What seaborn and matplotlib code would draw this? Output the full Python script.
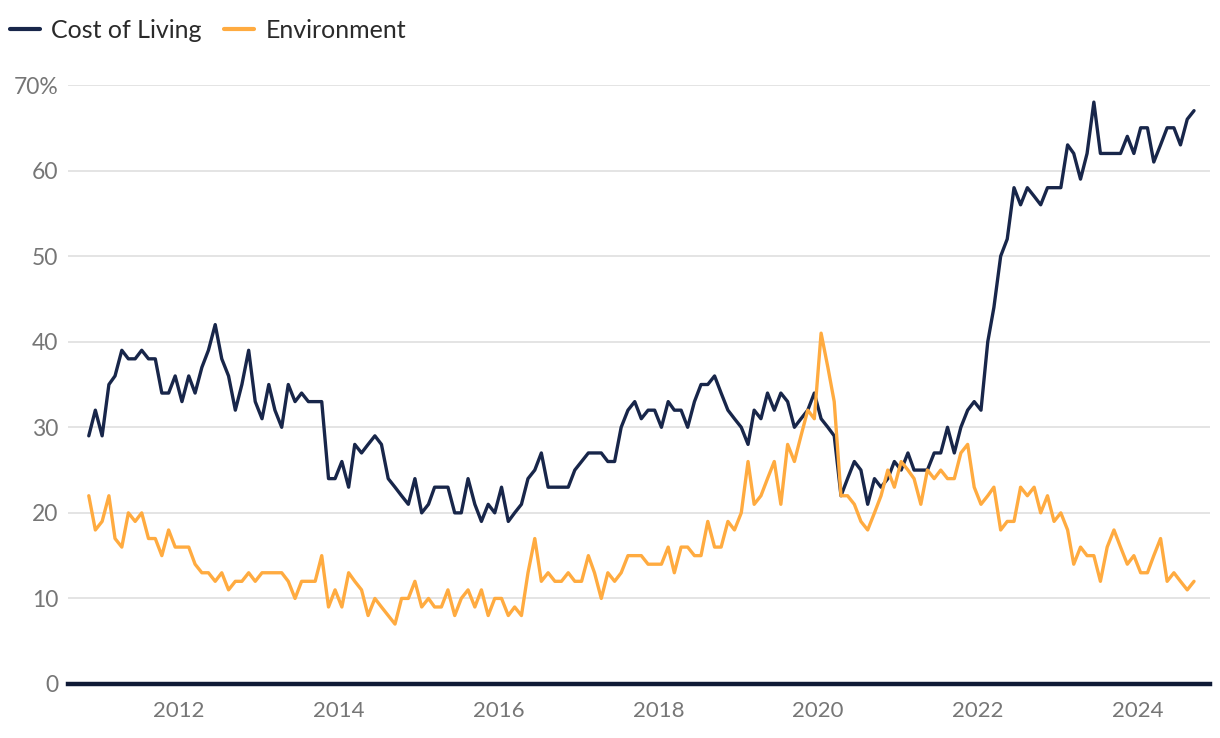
import pandas as pd
import seaborn as sns
import matplotlib.pyplot as plt
import matplotlib.dates as mdates


# monthly survey shares (%), Nov 2010 - Sep 2024
cost_of_living = [
	29, 32, 29, 35, 36, 39, 38, 38, 39, 38, 38, 34, 34, 36, 33, 36, 34, 37, 39, 42,
	38, 36, 32, 35, 39, 33, 31, 35, 32, 30, 35, 33, 34, 33, 33, 33,
	24, 24, 26, 23, 28, 27, 28, 29, 28, 24, 23, 22, 21, 24, 20, 21, 23, 23, 23, 20,
	20, 24, 21, 19, 21, 20, 23, 19, 20, 21, 24, 25, 27, 23, 23, 23, 23, 25, 26,
	27, 27, 27, 26, 26, 30, 32, 33, 31, 32, 32, 30, 33, 32, 32, 30, 33, 35, 35, 36,
	34, 32, 31, 30, 28, 32, 31, 34, 32, 34, 33, 30, 31, 32, 34, 31,
	30, 29, 22, 24, 26, 25, 21, 24, 23, 24, 26, 25, 27, 25, 25, 25, 27, 27, 30, 27,
	30, 32, 33, 32,
	40, 44, 50, 52, 58, 56, 58, 57, 56, 58, 58, 58, 63, 62, 59, 62, 68, 62, 62, 62,
	62, 64, 62, 65, 65, 61, 63, 65, 65, 63, 66, 67,
]

environment = [
	22, 18, 19, 22, 17, 16, 20, 19, 20, 17, 17, 15, 18, 16, 16, 16, 14, 13, 13, 12,
	13, 11, 12, 12, 13, 12, 13, 13, 13, 13, 12, 10, 12, 12, 12, 15,
	9, 11, 9, 13, 12, 11, 8, 10, 9, 8, 7, 10, 10, 12, 9, 10, 9, 9, 11, 8,
	10, 11, 9, 11, 8, 10, 10, 8, 9, 8, 13, 17, 12, 13, 12, 12, 13, 12, 12,
	15, 13, 10, 13, 12, 13, 15, 15, 15, 14, 14, 14, 16, 13, 16, 16, 15, 15, 19, 16,
	16, 19, 18, 20, 26, 21, 22, 24, 26, 21, 28, 26, 29, 32, 31, 41,
	37, 33, 22, 22, 21, 19, 18, 20, 22, 25, 23, 26, 25, 24, 21, 25, 24, 25, 24, 24,
	27, 28, 23, 21,
	22, 23, 18, 19, 19, 23, 22, 23, 20, 22, 19, 20, 18, 14, 16, 15, 15, 12, 16, 18,
	16, 14, 15, 13, 13, 15, 17, 12, 13, 12, 11, 12,
]

series_names = ['Cost of Living', 'Environment']
series_colors = ['#18264a', '#ffab40']
first_month = '2010-11-01'
y_ticks = [0, 10, 20, 30, 40, 50, 60, 70]
y_tick_labels = ['0', '10', '20', '30', '40', '50', '60', '70%']


def main():
	df = build_frame()
	plot(df)


def build_frame():
	# points sit mid-month
	months = pd.date_range(first_month, periods=len(cost_of_living), freq='MS') + pd.Timedelta(days=14)
	wide = pd.DataFrame({series_names[0]: cost_of_living, series_names[1]: environment}, index=months)
	wide.index.name = 'date'
	# long format for seaborn
	return wide.reset_index().melt(id_vars='date', var_name='series', value_name='share')


def plot(df):
	sns.set_style('white')
	plt.rcParams['font.family'] = ['Lato', 'DejaVu Sans']

	fig = plt.figure(figsize=(12.2, 7.38), dpi=100)
	ax = fig.add_axes([68 / 1220, 1 - 684 / 738, (1210 - 68) / 1220, (684 - 85) / 738])

	sns.lineplot(data=df, x='date', y='share', hue='series', hue_order=series_names,
		palette=series_colors, linewidth=2.4, ax=ax, zorder=3)

	ax.set_ylim(0, 70)
	ax.set_xlim(pd.Timestamp('2010-08-12'), pd.Timestamp('2024-11-27'))
	ax.set_yticks(y_ticks)
	ax.set_yticklabels(y_tick_labels)
	ax.xaxis.set_major_locator(mdates.YearLocator(2))
	ax.xaxis.set_major_formatter(mdates.DateFormatter('%Y'))

	ax.grid(axis='y', color='#e4e4e4', linewidth=1.4)
	ax.set_axisbelow(True)
	for side in ['top', 'right', 'left']:
		ax.spines[side].set_visible(False)
	ax.spines['bottom'].set_color('#0f1a36')
	ax.spines['bottom'].set_linewidth(3.2)
	ax.spines['bottom'].set_zorder(4)

	ax.tick_params(axis='x', length=0, pad=12, labelsize=16, labelcolor='#767676')
	ax.tick_params(axis='y', length=0, pad=7, labelsize=16.5, labelcolor='#767676')
	ax.set_xlabel('')
	ax.set_ylabel('')

	handles, labels = ax.get_legend_handles_labels()
	ax.get_legend().remove()
	fig.legend(handles, labels, loc='center left', bbox_to_anchor=(10 / 1220, 1 - 30 / 738),
		ncol=2, frameon=False, fontsize=18, labelcolor='#2a2a2a', handlelength=1.2,
		handletextpad=0.45, columnspacing=0.9, borderpad=0, borderaxespad=0)
	for line in fig.legends[0].get_lines():
		line.set_linewidth(3)

	fig.savefig('out.png', dpi=100)


if __name__ == '__main__':
	main()
